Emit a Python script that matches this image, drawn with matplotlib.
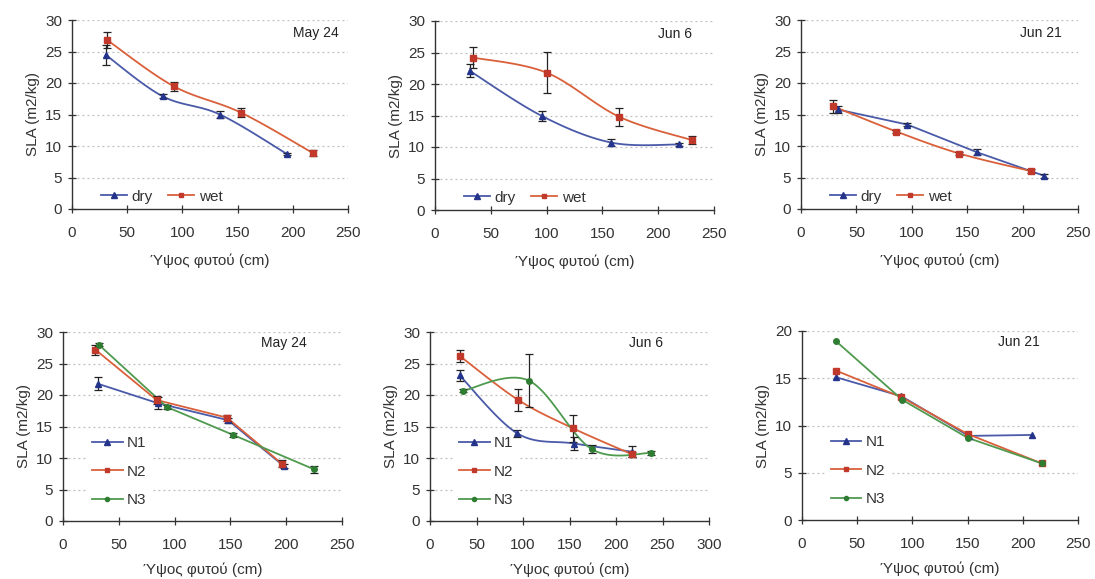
import numpy as np
import matplotlib
matplotlib.use("Agg")
import matplotlib.pyplot as plt

plt.rcParams['font.family'] = ['Liberation Sans', 'DejaVu Sans']

# ---------------- data ----------------
# Top row: dry / wet
may24_dry_x = [31, 82, 134, 195]
may24_dry_y = [24.4, 17.9, 15.0, 8.7]
may24_dry_e = [1.6, 0.3, 0.6, 0.2]
may24_wet_x = [32, 92, 153, 218]
may24_wet_y = [26.8, 19.5, 15.3, 8.9]
may24_wet_e = [1.3, 0.7, 0.7, 0.5]

jun6_dry_x = [31, 96, 158, 219]
jun6_dry_y = [22.1, 14.9, 10.7, 10.4]
jun6_dry_e = [1.0, 0.8, 0.5, 0.2]
jun6_wet_x = [34, 100, 165, 230]
jun6_wet_y = [24.2, 21.8, 14.8, 11.1]
jun6_wet_e = [1.6, 3.3, 1.4, 0.6]

jun21_dry_x = [33, 96, 159, 219]
jun21_dry_y = [15.8, 13.4, 9.0, 5.3]
jun21_dry_e = [0.6, 0.3, 0.5, 0.3]
jun21_wet_x = [29, 86, 143, 208]
jun21_wet_y = [16.3, 12.3, 8.8, 6.0]
jun21_wet_e = [1.0, 0.3, 0.3, 0.3]

# Bottom row: N1 / N2 / N3
may24_n1_x = [31, 85, 148, 198]
may24_n1_y = [21.8, 18.7, 16.0, 8.7]
may24_n1_e = [1.0, 1.0, 0.4, 0.3]
may24_n2_x = [29, 84, 147, 196]
may24_n2_y = [27.2, 19.2, 16.4, 9.1]
may24_n2_e = [0.8, 0.6, 0.5, 0.6]
may24_n3_x = [32, 93, 152, 225]
may24_n3_y = [28.0, 18.1, 13.7, 8.2]
may24_n3_e = [0.3, 0.3, 0.3, 0.6]

jun6_n1_x = [32, 94, 155, 217]
jun6_n1_y = [23.1, 13.9, 12.3, 11.0]
jun6_n1_e = [0.8, 0.6, 1.0, 0.9]
jun6_n2_x = [32, 95, 154, 217]
jun6_n2_y = [26.2, 19.2, 14.7, 10.6]
jun6_n2_e = [0.9, 1.8, 2.2, 0.4]
jun6_n3_x = [36, 106, 174, 238]
jun6_n3_y = [20.7, 22.3, 11.4, 10.8]
jun6_n3_e = [0.2, 4.2, 0.6, 0.3]

jun21_n1_x = [31, 90, 151, 208]
jun21_n1_y = [15.1, 13.1, 8.9, 9.0]
jun21_n2_x = [31, 90, 150, 217]
jun21_n2_y = [15.8, 13.0, 9.1, 6.0]
jun21_n3_x = [31, 91, 150, 217]
jun21_n3_y = [18.9, 12.7, 8.7, 6.0]

titles = ['May 24', 'Jun 6', 'Jun 21']
xlabel = 'Ύψος φυτού (cm)'
ylabel = 'SLA (m2/kg)'

# ---------------- style ----------------
BLUE_L, BLUE_M = '#4a5aa8', '#24348a'
RED_L, RED_M = '#d9603a', '#c0392b'
GREEN_L, GREEN_M = '#4f9a4f', '#2f7d32'
TXT = '#333333'


def smooth(x, y, n=30):
    x = np.asarray(x, float); y = np.asarray(y, float)
    P = np.column_stack([x, y])
    P = np.vstack([P[0], P, P[-1]])
    out = []
    for i in range(1, len(P) - 2):
        p0, p1, p2, p3 = P[i - 1], P[i], P[i + 1], P[i + 2]
        c1 = p1 + (p2 - p0) / 6.0
        c2 = p2 - (p3 - p1) / 6.0
        t = np.linspace(0, 1, n)[:, None]
        seg = ((1 - t) ** 3) * p1 + 3 * ((1 - t) ** 2) * t * c1 + 3 * (1 - t) * t ** 2 * c2 + t ** 3 * p2
        out.append(seg if i == 1 else seg[1:])
    S = np.vstack(out)
    return S[:, 0], S[:, 1]


def series(ax, x, y, e, lc, mc, marker, ms, label, sm):
    if sm:
        sx, sy = smooth(x, y)
    else:
        sx, sy = x, y
    ax.plot(sx, sy, color=lc, lw=1.3, zorder=3)
    if e is not None:
        ax.errorbar(x, y, yerr=e, fmt='none', ecolor='#222222', elinewidth=0.9,
                    capsize=3, capthick=0.9, zorder=4)
    ax.plot(x, y, linestyle='none', marker=marker, ms=ms, color=mc, zorder=5)
    ax.plot([], [], color=lc, lw=1.3, marker=marker, ms=ms - 1.0, mfc=mc, mec=mc, label=label)


def style(ax, xmax, ymax, ystep, title, tx, ty, xlab_pad=2):
    ax.set_xlim(0, xmax)
    ax.set_ylim(0, ymax)
    ax.set_xticks(np.arange(0, xmax + 1, 50))
    ax.set_yticks(np.arange(0, ymax + 1, ystep))
    for s in ['top', 'right']:
        ax.spines[s].set_visible(False)
    for s in ['left', 'bottom']:
        ax.spines[s].set_color('#333333')
        ax.spines[s].set_linewidth(1.0)
    ax.tick_params(axis='both', direction='inout', length=6, width=0.9,
                   colors='#333333', labelcolor=TXT, labelsize=11)
    ax.tick_params(axis='x', pad=9)
    ax.tick_params(axis='y', pad=4)
    for yv in np.arange(ystep, ymax + 0.1, ystep):
        ax.axhline(yv, color='#bdbdbd', lw=0.9, ls=(0, (1.5, 2.5)), zorder=0)
    ax.set_xlabel(xlabel, fontsize=11, color=TXT, labelpad=xlab_pad)
    ax.set_ylabel(ylabel, fontsize=11, color=TXT, labelpad=4)
    ax.text(tx, ty, title, transform=ax.transAxes, ha='right', va='center',
            fontsize=10, color='#222222')


fig = plt.figure(figsize=(10.95, 5.79), dpi=100)
W, H = 1095.0, 579.0


def mkax(l, r, t, b):
    return fig.add_axes([l / W, 1 - b / H, (r - l) / W, (b - t) / H])


ax1 = mkax(72, 348, 20, 209)
ax2 = mkax(435, 714, 21, 210)
ax3 = mkax(801, 1078, 20, 209)
ax4 = mkax(63, 342, 332, 521)
ax5 = mkax(430, 709, 332, 521)
ax6 = mkax(802, 1078, 331, 520)

MS_T, MS_S, MS_O = 4.8, 4.5, 4.0

# Top row
series(ax1, may24_dry_x, may24_dry_y, may24_dry_e, BLUE_L, BLUE_M, '^', MS_T, 'dry', True)
series(ax1, may24_wet_x, may24_wet_y, may24_wet_e, RED_L, RED_M, 's', MS_S, 'wet', True)
series(ax2, jun6_dry_x, jun6_dry_y, jun6_dry_e, BLUE_L, BLUE_M, '^', MS_T, 'dry', True)
series(ax2, jun6_wet_x, jun6_wet_y, jun6_wet_e, RED_L, RED_M, 's', MS_S, 'wet', True)
series(ax3, jun21_dry_x, jun21_dry_y, jun21_dry_e, BLUE_L, BLUE_M, '^', MS_T, 'dry', False)
series(ax3, jun21_wet_x, jun21_wet_y, jun21_wet_e, RED_L, RED_M, 's', MS_S, 'wet', True)

style(ax1, 250, 30, 5, titles[0], 0.965, 0.93, xlab_pad=10)
style(ax2, 250, 30, 5, titles[1], 0.92, 0.93, xlab_pad=10)
style(ax3, 250, 30, 5, titles[2], 0.94, 0.93, xlab_pad=10)

for ax in (ax1, ax2, ax3):
    lg = ax.legend(loc='lower left', bbox_to_anchor=(0.055, -0.045), ncol=2, frameon=False,
                   fontsize=11, handlelength=1.7, handletextpad=0.3, columnspacing=1.0,
                   labelcolor=TXT)

# Bottom row
series(ax4, may24_n1_x, may24_n1_y, may24_n1_e, BLUE_L, BLUE_M, '^', MS_T, 'N1', False)
series(ax4, may24_n2_x, may24_n2_y, may24_n2_e, RED_L, RED_M, 's', MS_S, 'N2', False)
series(ax4, may24_n3_x, may24_n3_y, may24_n3_e, GREEN_L, GREEN_M, 'o', MS_O, 'N3', False)

series(ax5, jun6_n1_x, jun6_n1_y, jun6_n1_e, BLUE_L, BLUE_M, '^', MS_T, 'N1', True)
series(ax5, jun6_n2_x, jun6_n2_y, jun6_n2_e, RED_L, RED_M, 's', MS_S, 'N2', True)
series(ax5, jun6_n3_x, jun6_n3_y, jun6_n3_e, GREEN_L, GREEN_M, 'o', MS_O, 'N3', True)

series(ax6, jun21_n1_x, jun21_n1_y, None, BLUE_L, BLUE_M, '^', MS_T, 'N1', False)
series(ax6, jun21_n2_x, jun21_n2_y, None, RED_L, RED_M, 's', MS_S, 'N2', False)
series(ax6, jun21_n3_x, jun21_n3_y, None, GREEN_L, GREEN_M, 'o', MS_O, 'N3', False)

style(ax4, 250, 30, 5, titles[0], 0.875, 0.94, xlab_pad=8)
style(ax5, 300, 30, 5, titles[1], 0.835, 0.94, xlab_pad=8)
style(ax6, 250, 20, 5, titles[2], 0.86, 0.94, xlab_pad=8)

for ax in (ax4, ax5, ax6):
    lg = ax.legend(loc='lower left', bbox_to_anchor=(0.06, 0.008), ncol=1, frameon=True,
                   fontsize=11, handlelength=2.0, handletextpad=0.3, labelspacing=0.95,
                   labelcolor=TXT, borderpad=0.3, fancybox=False)
    lg.get_frame().set_facecolor('white')
    lg.get_frame().set_edgecolor('none')
    lg.get_frame().set_alpha(1.0)
    lg.set_zorder(2)

fig.savefig('out.png', dpi=100)
